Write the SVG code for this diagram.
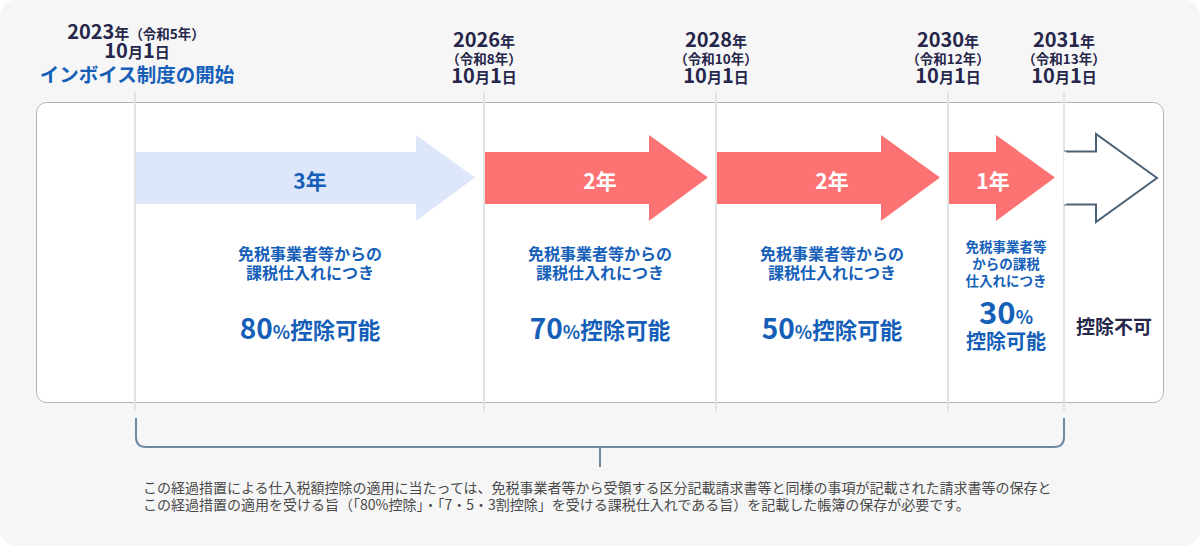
<svg xmlns="http://www.w3.org/2000/svg" width="1200" height="546" viewBox="0 0 1200 546">
<defs>
<style>
text{font-family:"Noto Sans CJK JP","Noto Sans",sans-serif;}
.hd{fill:#25264a;font-weight:700;text-anchor:middle;}
.d{font-size:20px;}
.s{font-size:15px;}
.p{font-size:13.5px;}
.bl{fill:#155fb9;font-weight:700;text-anchor:middle;}
.sub{font-size:16px;}
.sub4{font-size:13.5px;}
.big{font-size:28px;}
.pc{font-size:18px;}
.k{font-size:22.5px;}
.yr{font-size:21px;font-weight:700;text-anchor:middle;}
.vl{stroke:#e3e3e3;stroke-width:2;fill:none;}
.red{fill:#fd7373;}
.note{fill:#4a4a4a;font-size:14px;}
</style>
</defs>
<rect x="0" y="0" width="1200" height="546" rx="16" fill="#f6f6f6"/>
<rect x="36.5" y="102.5" width="1127" height="300" rx="10" fill="#ffffff" stroke="#b4b4b4" stroke-width="1"/>
<g id="gridlines">
<line class="vl" x1="135" y1="92" x2="135" y2="411"/>
<line class="vl" x1="484" y1="92" x2="484" y2="411"/>
<line class="vl" x1="716" y1="92" x2="716" y2="411"/>
<line class="vl" x1="948" y1="92" x2="948" y2="411"/>
<line class="vl" x1="1064" y1="92" x2="1064" y2="411"/>
</g>
<g id="header-2023">
<text class="hd" x="136" y="39"><tspan class="d">2023</tspan><tspan class="s">年</tspan><tspan class="p">（令和5年）</tspan></text>
<text class="hd" x="137" y="58"><tspan class="d">10</tspan><tspan class="s">月</tspan><tspan class="d">1</tspan><tspan class="s">日</tspan></text>
<text class="bl" x="137" y="82" font-size="19.5">インボイス制度の開始</text>
</g>
<g id="header-2026">
<text class="hd" x="484" y="47"><tspan class="d">2026</tspan><tspan class="s">年</tspan></text>
<text class="hd p" x="484" y="63.5">（令和8年）</text>
<text class="hd" x="484" y="83"><tspan class="d">10</tspan><tspan class="s">月</tspan><tspan class="d">1</tspan><tspan class="s">日</tspan></text>
</g>
<g id="header-2028">
<text class="hd" x="716" y="47"><tspan class="d">2028</tspan><tspan class="s">年</tspan></text>
<text class="hd p" x="716" y="63.5">（令和10年）</text>
<text class="hd" x="716" y="83"><tspan class="d">10</tspan><tspan class="s">月</tspan><tspan class="d">1</tspan><tspan class="s">日</tspan></text>
</g>
<g id="header-2030">
<text class="hd" x="948" y="47"><tspan class="d">2030</tspan><tspan class="s">年</tspan></text>
<text class="hd p" x="948" y="63.5">（令和12年）</text>
<text class="hd" x="948" y="83"><tspan class="d">10</tspan><tspan class="s">月</tspan><tspan class="d">1</tspan><tspan class="s">日</tspan></text>
</g>
<g id="header-2031">
<text class="hd" x="1064" y="47"><tspan class="d">2031</tspan><tspan class="s">年</tspan></text>
<text class="hd p" x="1064" y="63.5">（令和13年）</text>
<text class="hd" x="1064" y="83"><tspan class="d">10</tspan><tspan class="s">月</tspan><tspan class="d">1</tspan><tspan class="s">日</tspan></text>
</g>
<g id="period-3y">
<polygon points="136,152 416,152 416,135 475,177.5 416,221 416,204 136,204" fill="#dde7f9"/>
<text class="yr" x="310" y="189" fill="#155fb9">3年</text>
<text class="bl sub" x="310" y="260">免税事業者等からの</text>
<text class="bl sub" x="310" y="279">課税仕入れにつき</text>
<text class="bl" x="310" y="339"><tspan class="big">80</tspan><tspan class="pc">%</tspan><tspan class="k">控除可能</tspan></text>
</g>
<g id="period-2y-a">
<polygon class="red" points="485,152 649,152 649,135 708,177.5 649,221 649,204 485,204"/>
<text class="yr" x="600" y="189" fill="#ffffff">2年</text>
<text class="bl sub" x="600" y="260">免税事業者等からの</text>
<text class="bl sub" x="600" y="279">課税仕入れにつき</text>
<text class="bl" x="600" y="339"><tspan class="big">70</tspan><tspan class="pc">%</tspan><tspan class="k">控除可能</tspan></text>
</g>
<g id="period-2y-b">
<polygon class="red" points="717,152 881,152 881,135 940,177.5 881,221 881,204 717,204"/>
<text class="yr" x="832" y="189" fill="#ffffff">2年</text>
<text class="bl sub" x="832" y="260">免税事業者等からの</text>
<text class="bl sub" x="832" y="279">課税仕入れにつき</text>
<text class="bl" x="832" y="339"><tspan class="big">50</tspan><tspan class="pc">%</tspan><tspan class="k">控除可能</tspan></text>
</g>
<g id="period-1y">
<polygon class="red" points="949,152 996,152 996,135 1055,177.5 996,221 996,204 949,204"/>
<text class="yr" x="993" y="189" fill="#ffffff">1年</text>
<text class="bl sub4" x="1006" y="252">免税事業者等</text>
<text class="bl sub4" x="1006" y="269">からの課税</text>
<text class="bl sub4" x="1006" y="286">仕入れにつき</text>
<text class="bl" x="1006" y="324"><tspan font-size="31px">30</tspan><tspan class="pc">%</tspan></text>
<text class="bl" x="1006" y="349" font-size="20">控除可能</text>
</g>
<g id="period-none">
<polygon points="1065,151.5 1096,151.5 1096,134 1157,178 1096,222 1096,204.5 1065,204.5" fill="#ffffff" stroke="#4d6274" stroke-width="2" stroke-linejoin="miter"/>
<line x1="1065" y1="151.5" x2="1065" y2="204.5" stroke="#ffffff" stroke-width="2.5"/>
<text x="1114" y="334" font-size="19" font-weight="700" fill="#25264a" text-anchor="middle">控除不可</text>
</g>
<g id="connectors">
<path d="M136,418 V437 Q136,447 146,447 H1054 Q1064,447 1064,437 V418" fill="none" stroke="#6e8aa3" stroke-width="2"/>
<line x1="600" y1="447" x2="600" y2="467" stroke="#6e8aa3" stroke-width="2"/>
</g>
<g id="footnote">
<text class="note" x="143" y="493">この経過措置による仕入税額控除の適用に当たっては、免税事業者等から受領する区分記載請求書等と同様の事項が記載された請求書等の保存と</text>
<text class="note" x="143" y="510">この経過措置の適用を受ける旨（「80%控除」・「7・5・3割控除」を受ける課税仕入れである旨）を記載した帳簿の保存が必要です。</text>
</g>
</svg>
